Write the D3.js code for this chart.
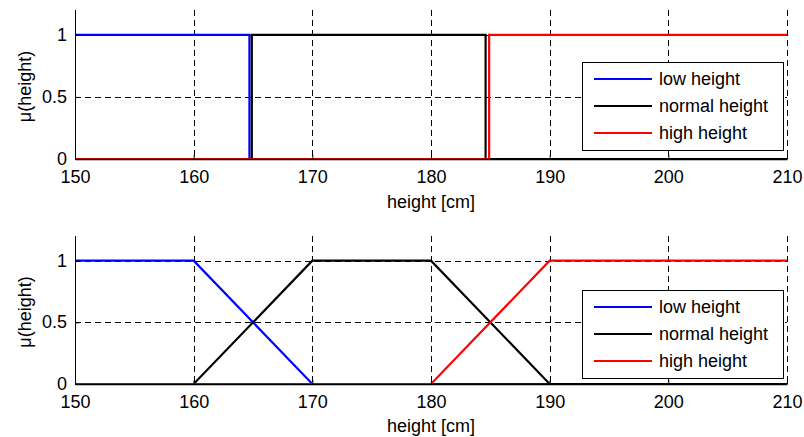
<!DOCTYPE html>
<html>
<head>
<meta charset="utf-8">
<script src="https://cdn.jsdelivr.net/npm/d3@7"></script>
<style>
  body { margin: 0; background: #fff; }
  svg { display: block; font-family: "Liberation Sans", Arial, sans-serif; }
</style>
</head>
<body>
<svg id="chart" width="804" height="437"></svg>
<script>
// Membership functions for "height", crisp (top) and fuzzy (bottom)
const xTicks = [150, 160, 170, 180, 190, 200, 210];
const yTicks = [0, 0.5, 1];
const yTickLabels = ["0", "0.5", "1"];
const seriesNames = ["low height", "normal height", "high height"];
const seriesColors = ["#0000ff", "#000000", "#ff0000"];

// crisp sets: [height, mu]
const crispLow = [[150, 1], [164.7, 1], [164.7, 0], [210, 0]];
const crispNormal = [[150, 0], [164.9, 0], [164.9, 1], [184.6, 1], [184.6, 0], [210, 0]];
const crispHigh = [[150, 0], [184.9, 0], [184.9, 1], [210, 1]];

// fuzzy (trapezoidal) sets
const fuzzyLow = [[150, 1], [160, 1], [170, 0], [210, 0]];
const fuzzyNormal = [[150, 0], [160, 0], [170, 1], [180, 1], [190, 0], [210, 0]];
const fuzzyHigh = [[150, 0], [180, 0], [190, 1], [210, 1]];

const FONT = 18;
const svg = d3.select("#chart");

const panels = [
  { top: 10, bottom: 159, series: [crispLow, crispNormal, crispHigh],
    legend: { x: 582, y: 62, w: 201, h: 88 }, xlabelY: 208 },
  { top: 236, bottom: 384, series: [fuzzyLow, fuzzyNormal, fuzzyHigh],
    legend: { x: 582, y: 290, w: 201, h: 88 }, xlabelY: 432 }
];

panels.forEach(p => {
  const g = svg.append("g");
  const x = d3.scaleLinear().domain([150, 210]).range([75, 787]);
  const y = d3.scaleLinear().domain([0, 1.2]).range([p.bottom, p.top]);

  // dashed grid
  g.append("g").selectAll("line").data(xTicks).join("line")
    .attr("x1", d => Math.round(x(d)) + 0.5).attr("x2", d => Math.round(x(d)) + 0.5)
    .attr("y1", p.top).attr("y2", p.bottom)
    .attr("stroke", "#000").attr("stroke-width", 1)
    .attr("stroke-dasharray", "6,4");
  g.append("g").selectAll("line").data(yTicks.filter(d => d > 0)).join("line")
    .attr("x1", 75).attr("x2", 787)
    .attr("y1", d => Math.round(y(d)) + 0.5).attr("y2", d => Math.round(y(d)) + 0.5)
    .attr("stroke", "#000").attr("stroke-width", 1)
    .attr("stroke-dasharray", "6,4");

  // series
  const line = d3.line().x(d => x(d[0])).y(d => y(d[1]));
  p.series.forEach((s, i) => {
    g.append("path").datum(s).attr("d", line)
      .attr("fill", "none").attr("stroke", seriesColors[i])
      .attr("stroke-width", 2.2).attr("stroke-linejoin", "miter");
  });

  // axes
  const xAxis = d3.axisBottom(x).tickValues(xTicks).tickSizeInner(-4).tickSizeOuter(0).tickPadding(11);
  const gx = g.append("g").attr("transform", `translate(0,${p.bottom})`).call(xAxis);
  gx.attr("font-size", FONT).attr("font-family", null);
  gx.select(".domain").attr("stroke", "#000").attr("stroke-width", 1.5);
  gx.selectAll(".tick line").attr("stroke", "#000");
  gx.selectAll("text").attr("fill", "#000");

  const yAxis = d3.axisLeft(y).tickValues(yTicks).tickFormat((d, i) => yTickLabels[i])
    .tickSizeInner(-4).tickSizeOuter(0).tickPadding(8);
  const gy = g.append("g").attr("transform", "translate(75,0)").call(yAxis);
  gy.attr("font-size", FONT).attr("font-family", null);
  gy.select(".domain").attr("stroke", "#000").attr("stroke-width", 1);
  gy.selectAll(".tick line").attr("stroke", "#000");
  gy.selectAll("text").attr("fill", "#000").attr("dy", "0.3em");

  // axis titles
  g.append("text").attr("x", 431).attr("y", p.xlabelY)
    .attr("text-anchor", "middle").attr("font-size", FONT).text("height [cm]");
  g.append("text")
    .attr("transform", `translate(31,${(p.top + p.bottom) / 2 + 2}) rotate(-90)`)
    .attr("text-anchor", "middle").attr("font-size", FONT).text("μ(height)");

  // legend
  const L = p.legend;
  const lg = g.append("g");
  lg.append("rect").attr("x", L.x + 0.5).attr("y", L.y + 0.5).attr("width", L.w).attr("height", L.h)
    .attr("fill", "#fff").attr("stroke", "#000").attr("stroke-width", 1);
  seriesNames.forEach((name, i) => {
    const cy = L.y + 17 + i * 27;
    lg.append("line").attr("x1", L.x + 12).attr("x2", L.x + 70)
      .attr("y1", cy).attr("y2", cy)
      .attr("stroke", seriesColors[i]).attr("stroke-width", 2.2);
    lg.append("text").attr("x", L.x + 77).attr("y", cy + 6)
      .attr("font-size", FONT).text(name);
  });
});
</script>
</body>
</html>
